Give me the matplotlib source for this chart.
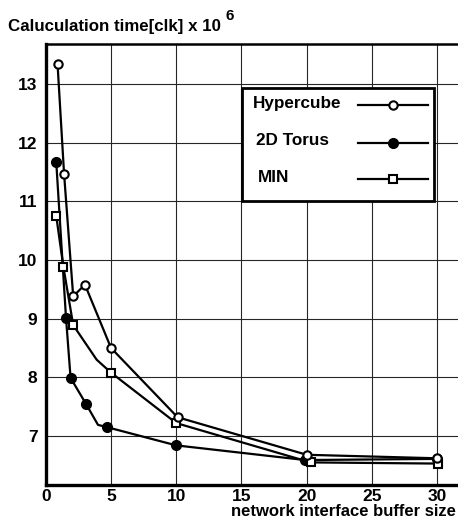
import matplotlib.pyplot as plt
import numpy as np

plt.rcParams['font.family'] = ['Liberation Sans', 'DejaVu Sans']
plt.rcParams['font.weight'] = 'bold'

# data
hyper_x = [0.9, 1.4, 2.1, 3.0, 5.0, 10.1, 20.0, 30.0]
hyper_y = [13.34, 11.47, 9.38, 9.58, 8.50, 7.32, 6.68, 6.62]

torus_x = [0.8, 1.55, 1.9, 3.1, 4.0, 4.7, 10.0, 19.9, 30.0]
torus_y = [11.67, 9.01, 7.99, 7.54, 7.19, 7.15, 6.84, 6.59, 6.61]
torus_marks = [0, 1, 2, 3, 5, 6, 7, 8]

min_x = [0.8, 1.35, 2.1, 3.9, 5.0, 10.0, 20.3, 30.1]
min_y = [10.75, 9.88, 8.89, 8.30, 8.08, 7.22, 6.55, 6.53]
min_marks = [0, 1, 2, 4, 5, 6, 7]

x_ticks = [0, 5, 10, 15, 20, 25, 30]
y_ticks = [7, 8, 9, 10, 11, 12, 13]

fig = plt.figure(figsize=(4.58, 5.21), dpi=100)
ax = fig.add_axes([45.8 / 458, 1 - 485 / 521, 412.2 / 458, 441 / 521])

styles = {
    'Hypercube': dict(marker='o', ms=6, mfc='white', mec='black', mew=1.5),
    '2D Torus': dict(marker='o', ms=7, mfc='black', mec='black'),
    'MIN': dict(marker='s', ms=6, mfc='white', mec='black', mew=1.5),
}

ax.plot(hyper_x, hyper_y, color='black', lw=1.6, zorder=4, **styles['Hypercube'])
ax.plot(torus_x, torus_y, color='black', lw=1.6, markevery=torus_marks, zorder=3,
        **styles['2D Torus'])
ax.plot(min_x, min_y, color='black', lw=1.6, markevery=min_marks, zorder=3,
        **styles['MIN'])

ax.set_xlim(0, 31.6)
ax.set_ylim(6.165, 13.68)
ax.set_xticks(x_ticks)
ax.set_yticks(y_ticks)
ax.tick_params(length=0, labelsize=12.5)
ax.tick_params(axis='y', pad=6)
ax.tick_params(axis='x', pad=3)
for lab in ax.get_xticklabels() + ax.get_yticklabels():
    lab.set_fontweight('bold')

ax.grid(True, color='0.15', lw=0.8)
ax.set_axisbelow(True)

ax.spines['right'].set_visible(False)
ax.spines['left'].set_linewidth(2.4)
ax.spines['bottom'].set_linewidth(2.4)
ax.spines['top'].set_linewidth(1.8)

# legend box drawn by hand: labels left-aligned, samples on the right
box = plt.Rectangle((0.475, 0.643), 0.467, 0.2575, transform=ax.transAxes,
                    facecolor='white', edgecolor='black', lw=2, zorder=5)
ax.add_patch(box)
leg_labels = ['Hypercube', '2D Torus', 'MIN']
leg_text_x = [0.503, 0.511, 0.5155]
leg_text_y = [0.855, 0.770, 0.688]
leg_line_y = [0.862, 0.776, 0.693]
for lab, tx, ty, ly in zip(leg_labels, leg_text_x, leg_text_y, leg_line_y):
    ax.text(tx, ty, lab, transform=ax.transAxes, fontsize=12.3, fontweight='bold',
            ha='left', va='baseline', zorder=6)
    ax.plot([0.757, 0.843, 0.927], [ly, ly, ly], transform=ax.transAxes,
            color='black', lw=1.6, markevery=[1], clip_on=False, zorder=6,
            **styles[lab])

fig.text(8 / 458, 1 - 30.5 / 521, 'Caluculation time[clk] x 10', fontsize=12.2,
         fontweight='bold', ha='left', va='baseline')
fig.text(226 / 458, 1 - 20 / 521, '6', fontsize=11, fontweight='bold',
         ha='left', va='baseline')
fig.text(456 / 458, 1 - 516.5 / 521, 'network interface buffer size', fontsize=12,
         fontweight='bold', ha='right', va='baseline')

fig.savefig('out.png', dpi=100)
